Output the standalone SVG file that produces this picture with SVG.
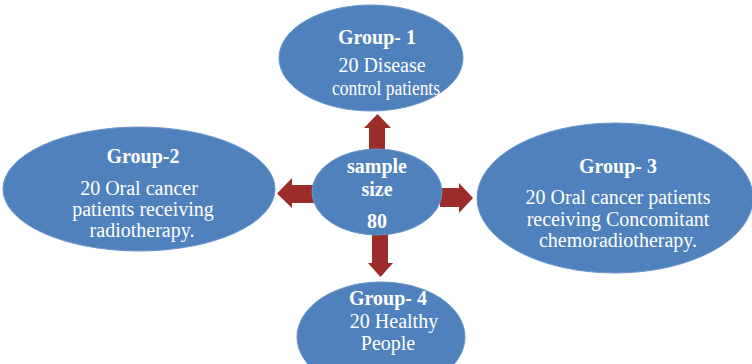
<svg xmlns="http://www.w3.org/2000/svg" width="752" height="364" viewBox="0 0 752 364">
<style>
.node{fill:#4f81bd;stroke:#6a95cc;stroke-width:1}
.arrow{fill:#9b2c2a}
text{font-family:"Liberation Serif","Times New Roman",serif;fill:#ffffff;font-size:20px;text-anchor:middle}
.t{font-weight:bold}
</style>
<rect width="752" height="364" fill="#ffffff"/>
<g id="connectors">
<polygon class="arrow" points="369,152 385,152 385,128 391,128 377.5,114 364,128 369,128"/>
<polygon class="arrow" points="372,233 388,233 388,263 393,263 380.5,277 368,263 372,263"/>
<polygon class="arrow" points="314,185 314,203 292,203 292,208 277,193.5 292,178 292,185"/>
<polygon class="arrow" points="440,188 440,207 459,207 459,213 473,198 459,183 459,188"/>
</g>
<g id="group1">
<ellipse class="node" cx="371" cy="58" rx="92" ry="53"/>
<text class="t" x="377" y="44">Group- 1</text>
<text x="382" y="72">20 Disease</text>
<text x="386" y="95" textLength="108" lengthAdjust="spacingAndGlyphs">control patients</text>
</g>
<g id="sample">
<ellipse class="node" cx="377" cy="192" rx="65" ry="43"/>
<text class="t" x="377" y="173">sample</text>
<text class="t" x="377" y="196">size</text>
<text class="t" x="377" y="228">80</text>
</g>
<g id="group2">
<ellipse class="node" cx="139" cy="189" rx="136" ry="62"/>
<text class="t" x="143" y="163">Group-2</text>
<text x="139" y="195">20 Oral cancer</text>
<text x="143" y="216">patients receiving</text>
<text x="142" y="237">radiotherapy.</text>
</g>
<g id="group3">
<ellipse class="node" cx="615" cy="198" rx="138" ry="75"/>
<text class="t" x="618" y="173">Group- 3</text>
<text x="618" y="204">20 Oral cancer patients</text>
<text x="618" y="226">receiving Concomitant</text>
<text x="618" y="247">chemoradiotherapy.</text>
</g>
<g id="group4">
<ellipse class="node" cx="381" cy="337" rx="84" ry="55"/>
<text class="t" x="388" y="305">Group- 4</text>
<text x="394" y="328">20 Healthy</text>
<text x="388" y="350">People</text>
</g>
</svg>
